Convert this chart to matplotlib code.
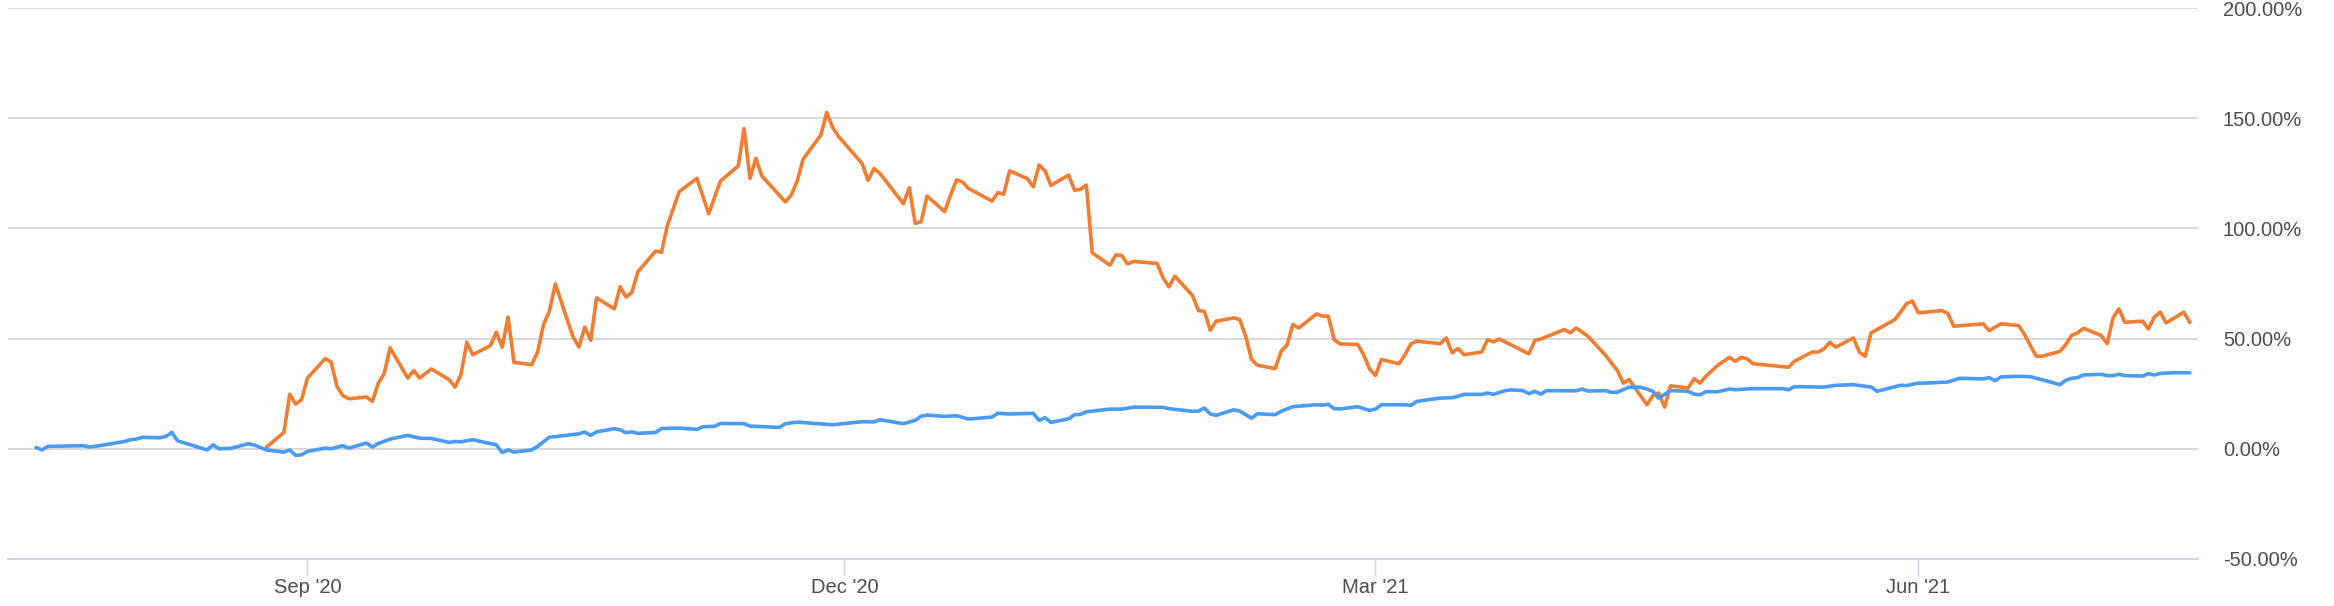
import pandas as pd
import matplotlib.pyplot as plt
from matplotlib.ticker import FuncFormatter

# 起始日期，下面的天数都从这一天算起
start = pd.Timestamp('2020-07-17')

blue_days = [0, 1, 2, 8, 9, 10, 15, 16, 17, 18, 21, 22, 23, 24, 29, 30, 31, 33, 36, 37,
             39, 42, 43, 44, 45, 46, 49, 50, 52, 53, 56, 57, 58, 60, 63, 65, 67, 70, 71, 72,
             74, 78, 79, 80, 81, 84, 85, 87, 88, 92, 93, 94, 95, 98, 99, 100, 101, 102, 105, 106,
             109, 112, 113, 115, 116, 120, 121, 126, 127, 129, 135, 140, 142, 143, 147, 149, 150, 151, 154, 156,
             158, 162, 163, 165, 169, 170, 171, 172, 175, 176, 177, 178, 182, 184, 186, 191, 192, 196, 197, 198,
             199, 200, 203, 204, 206, 207, 210, 211, 213, 217, 218, 219, 220, 221, 224, 226, 227, 228, 232, 233,
             234, 236, 238, 240, 241, 242, 245, 246, 247, 249, 250, 252, 253, 254, 255, 256, 261, 262, 263, 266,
             267, 268, 270, 272, 273, 274, 275, 277, 280, 281, 282, 283, 285, 287, 288, 291, 296, 297, 298, 303,
             305, 308, 311, 312, 316, 317, 319, 320, 324, 326, 330, 331, 332, 333, 336, 338, 341, 343, 344, 345,
             346, 347, 350, 351, 352, 353, 354, 357, 358, 359, 360, 362, 365]
blue_vals = [0.6, -0.5, 1.1, 1.4, 0.8, 1.1, 3.3, 4.1, 4.4, 5.2, 5.0, 5.6, 7.4, 3.6, -0.5, 1.8, 0.0, 0.2, 2.3, 1.7,
             -0.5, -1.5, -0.5, -3.0, -2.7, -1.2, 0.3, 0.0, 1.4, 0.3, 2.6, 0.8, 2.4, 4.4, 6.1, 4.8, 4.7, 2.9, 3.3, 3.2,
             4.1, 1.8, -1.7, -0.5, -1.5, -0.5, 1.1, 5.3, 5.5, 6.8, 7.6, 6.1, 7.7, 9.1, 8.6, 7.3, 7.7, 7.0, 7.4, 9.2,
             9.4, 8.8, 10.0, 10.2, 11.5, 11.4, 10.3, 9.7, 11.4, 12.1, 10.9, 12.3, 12.2, 13.2, 11.4, 12.9, 14.8, 15.3, 14.7, 15.0,
             13.5, 14.4, 16.1, 15.8, 16.1, 12.9, 14.1, 12.0, 13.6, 15.5, 15.6, 16.8, 18.0, 18.0, 18.9, 18.8, 18.2, 17.0, 17.1, 18.5,
             15.8, 15.2, 17.7, 17.1, 13.9, 15.9, 15.5, 17.0, 19.1, 20.0, 19.8, 20.2, 18.2, 18.1, 19.1, 17.4, 18.0, 20.0, 20.0, 19.7,
             21.5, 22.3, 23.0, 23.2, 23.8, 24.7, 24.7, 25.3, 24.7, 26.4, 26.7, 26.4, 25.0, 26.1, 24.8, 26.4, 26.3, 27.1, 26.2, 26.4,
             25.6, 25.7, 28.0, 27.9, 27.1, 26.1, 23.0, 26.4, 26.1, 24.8, 24.5, 25.9, 25.9, 27.1, 26.8, 27.3, 27.3, 26.8, 28.2, 28.0,
             28.8, 29.1, 28.0, 26.1, 28.8, 28.7, 29.8, 29.8, 30.3, 32.0, 31.7, 32.3, 30.9, 32.6, 32.9, 32.7, 30.6, 29.1, 31.1, 32.0,
             32.3, 33.5, 33.8, 33.2, 33.2, 33.8, 33.2, 33.0, 34.1, 33.5, 34.2, 34.5, 34.5]

orange_days = [39, 42, 43, 44, 45, 46, 49, 50, 51, 52, 53, 56, 57, 58, 59, 60, 63, 64, 65, 67,
               70, 71, 72, 73, 74, 77, 78, 79, 80, 81, 84, 85, 86, 87, 88, 91, 92, 93, 94, 95,
               98, 99, 100, 101, 102, 105, 106, 107, 109, 112, 114, 116, 119, 120, 121, 122, 123, 127, 128, 129,
               130, 133, 134, 135, 136, 140, 141, 142, 143, 147, 148, 149, 150, 151, 154, 155, 156, 157, 158, 162,
               163, 164, 165, 168, 169, 170, 171, 172, 175, 176, 177, 178, 179, 182, 183, 184, 185, 186, 190, 191,
               192, 193, 196, 197, 198, 199, 200, 203, 204, 205, 206, 207, 210, 211, 212, 213, 214, 217, 218, 219,
               220, 221, 224, 225, 226, 227, 228, 231, 232, 233, 234, 238, 239, 240, 241, 242, 245, 246, 247, 248,
               253, 254, 255, 259, 260, 261, 263, 266, 268, 269, 270, 273, 274, 275, 276, 277, 280, 281, 282, 283,
               285, 287, 288, 289, 290, 291, 297, 298, 301, 302, 303, 304, 305, 308, 309, 310, 311, 312, 315, 316,
               317, 318, 319, 323, 324, 325, 330, 331, 333, 336, 337, 338, 339, 340, 343, 344, 345, 346, 347, 350,
               351, 352, 353, 354, 357, 358, 359, 360, 361, 364, 365]
orange_vals = [0.6, 7.4, 24.8, 20.3, 22.3, 32.1, 40.9, 39.4, 28.3, 24.1, 22.7, 23.5, 21.5, 29.8, 34.1, 45.8, 32.1, 35.5, 32.1, 36.2,
               31.4, 28.0, 33.6, 48.3, 42.7, 46.8, 52.9, 46.1, 59.8, 39.2, 38.2, 43.8, 56.4, 62.4, 74.8, 50.8, 46.2, 55.2, 49.2, 68.5,
               63.5, 73.5, 68.8, 71.1, 80.3, 89.7, 89.2, 101.4, 116.7, 122.7, 106.7, 121.5, 128.3, 145.3, 122.7, 131.8, 123.8, 112.0, 115.2, 121.5,
               131.4, 142.3, 152.6, 145.8, 141.7, 129.5, 121.8, 127.1, 125.0, 111.2, 118.5, 102.3, 103.0, 114.7, 107.6, 115.2, 122.0, 121.1, 118.2, 112.4,
               116.2, 115.5, 126.1, 122.6, 118.9, 128.8, 126.1, 119.5, 124.2, 117.3, 117.7, 119.7, 88.9, 83.3, 88.0, 87.7, 83.9, 85.0, 84.1, 77.6,
               73.5, 78.3, 69.5, 62.7, 62.4, 53.8, 57.9, 59.4, 58.6, 51.1, 40.5, 37.9, 36.4, 44.2, 47.0, 56.4, 54.8, 61.2, 60.2, 60.2,
               49.5, 47.6, 47.3, 42.7, 36.2, 33.3, 40.5, 38.6, 42.7, 47.6, 48.8, 47.7, 50.3, 43.5, 45.5, 42.7, 43.9, 49.5, 48.5, 49.8,
               43.1, 49.2, 49.8, 54.1, 52.6, 54.8, 51.1, 42.4, 35.5, 29.8, 31.4, 20.0, 24.1, 25.3, 18.9, 28.6, 27.6, 31.8, 29.8, 32.9,
               37.9, 41.5, 39.7, 41.5, 40.8, 38.6, 37.0, 39.7, 43.9, 43.9, 45.3, 48.3, 46.1, 50.3, 43.9, 42.0, 52.6, 54.1, 58.6, 62.1,
               65.9, 67.0, 61.7, 62.7, 61.4, 55.6, 56.7, 53.6, 56.7, 55.9, 51.8, 46.8, 42.0, 42.0, 44.2, 47.3, 51.5, 52.6, 54.7, 51.4,
               47.7, 59.4, 63.5, 57.4, 57.9, 54.4, 59.8, 62.0, 57.1, 62.0, 57.4]

tick_dates = ['2020-09-01', '2020-12-01', '2021-03-01', '2021-06-01']
tick_labels = ["Sep '20", "Dec '20", "Mar '21", "Jun '21"]
y_ticks = [-50, 0, 50, 100, 150, 200]

blue_x = start + pd.to_timedelta(blue_days, unit='D')
orange_x = start + pd.to_timedelta(orange_days, unit='D')

plt.rcParams['font.family'] = ['Liberation Sans', 'DejaVu Sans']

fig = plt.figure(figsize=(23.34, 6.06), dpi=100)
ax = fig.add_axes([8 / 2334, 47 / 606, 2190 / 2334, 551 / 606])

ax.plot(orange_x, orange_vals, color='#f07e32', linewidth=2.6, solid_joinstyle='round',
        solid_capstyle='round', zorder=3)
ax.plot(blue_x, blue_vals, color='#4a9bf6', linewidth=2.6, solid_joinstyle='round',
        solid_capstyle='round', zorder=4)

ax.set_xlim(start - pd.Timedelta(days=4.75), start + pd.Timedelta(days=366.4))
ax.set_ylim(-50, 200)

ax.set_xticks(pd.to_datetime(tick_dates))
ax.set_xticklabels(tick_labels)
ax.set_yticks(y_ticks)
ax.yaxis.set_major_formatter(FuncFormatter(lambda v, p: f'{v:.2f}%'))

ax.yaxis.tick_right()
ax.yaxis.grid(True, color='#d9d9d9', linewidth=1.4)
ax.set_axisbelow(True)

for s in ['top', 'left', 'right']:
    ax.spines[s].set_visible(False)
ax.spines['bottom'].set_color('#ccd6eb')
ax.spines['bottom'].set_linewidth(1.4)
ax.spines['bottom'].set_zorder(5)

ax.tick_params(axis='x', direction='out', length=12, width=1, color='#ccd6eb',
               labelsize=14.5, labelcolor='#4d4d4d', pad=2)
ax.tick_params(axis='y', length=0, labelsize=14.5, labelcolor='#4d4d4d', pad=18)

plt.savefig('out.png', dpi=100)
